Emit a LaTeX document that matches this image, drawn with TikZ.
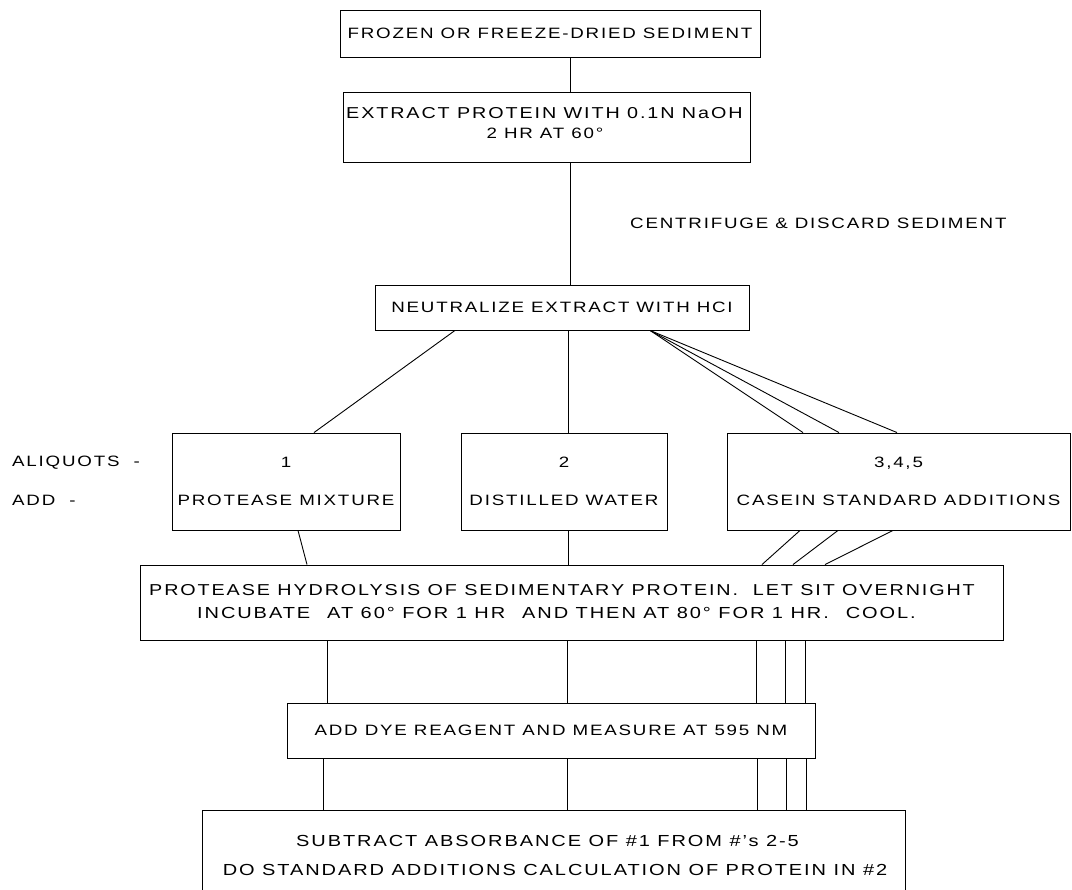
\documentclass[tikz,border=0pt]{standalone}
\usepackage{fontspec}
\setmainfont[LetterSpace=12,FakeStretch=1.25]{Liberation Sans}
\begin{document}
\begin{tikzpicture}[x=1pt,y=-1pt,
  txt/.style={font=\fontsize{15}{18}\selectfont, inner sep=0pt, align=center},
  bigtxt/.style={txt, font=\fontsize{16}{19}\selectfont},
  box/.style={draw, line width=0.9pt, inner sep=0pt, txt},
  conn/.style={line width=0.9pt}]
\clip (0,0) rectangle (1072,890);
\useasboundingbox (0,0) rectangle (1072,890);

% boxes
\node[box, minimum width=420pt, minimum height=47pt] (b1) at (550,33.5) {FROZEN OR FREEZE-DRIED SEDIMENT};
\node[box, minimum width=407pt, minimum height=70pt] (b2) at (546.5,127) {};
\node[txt, anchor=west, font=\fontsize{15.8}{18}\selectfont] (b2a) at (346,113) {EXTRACT PROTEIN WITH 0.1N NaOH};
\node[txt] (b2b) at (545,133) {2 HR AT 60°};
\node[txt, anchor=west] (cent) at (630,223) {CENTRIFUGE \& DISCARD SEDIMENT};
\node[box, minimum width=374pt, minimum height=45pt] (b3) at (562,307.5) {NEUTRALIZE EXTRACT WITH HCI};

\node[txt, anchor=west] (aliq) at (12,463) {ALIQUOTS\ \ -};
\node[txt, anchor=west] (add) at (12,500) {ADD\ \ -};
\node[box, minimum width=228pt, minimum height=97pt] (aA) at (286,481.5) {1\\[20pt]PROTEASE MIXTURE};
\node[box, minimum width=206pt, minimum height=97pt] (aB) at (564,481.5) {2\\[20pt]DISTILLED WATER};
\node[box, minimum width=343pt, minimum height=97pt] (aC) at (898.5,481.5) {3,4,5\\[20pt]CASEIN STANDARD ADDITIONS};

\node[box, minimum width=863pt, minimum height=75pt] (hyd) at (571.5,602.5) {};
\node[txt, font=\fontsize{15.8}{19}\selectfont] (hyda) at (562,590) {PROTEASE HYDROLYSIS OF SEDIMENTARY PROTEIN.\ \ LET SIT OVERNIGHT};
\node[bigtxt] (hydb) at (556.5,613) {INCUBATE\hspace{17pt}AT 60° FOR 1 HR\hspace{17pt}AND THEN AT 80° FOR 1 HR.\hspace{17pt}COOL.};

\node[box, minimum width=528pt, minimum height=55pt] (dye) at (551,730.5) {ADD DYE REAGENT AND MEASURE AT 595 NM};

\node[box, minimum width=703pt, minimum height=85pt] (bot) at (553.5,852.5) {};
\node[bigtxt] (bota) at (547.5,841) {SUBTRACT ABSORBANCE OF \#1 FROM \#'s 2-5};
\node[bigtxt] (botb) at (555,869.5) {DO STANDARD ADDITIONS CALCULATION OF PROTEIN IN \#2};

% connectors
\draw[conn] ([xshift=20pt]b1.south) -- ([xshift=23.5pt]b2.north);
\draw[conn] ([xshift=23.5pt]b2.south) -- ([xshift=8pt]b3.north);

\draw[conn] ([xshift=-107pt]b3.south) -- ([xshift=28pt]aA.north);
\draw[conn] ([xshift=6pt]b3.south) -- ([xshift=4pt]aB.north);
\draw[conn] ([xshift=88pt]b3.south) -- ([xshift=-95.5pt]aC.north);
\draw[conn] ([xshift=88pt]b3.south) -- ([xshift=-59.5pt]aC.north);
\draw[conn] ([xshift=88pt]b3.south) -- ([xshift=-1.5pt]aC.north);

\draw[conn] ([xshift=12pt]aA.south) -- ([xshift=-264.5pt]hyd.north);
\draw[conn] ([xshift=4pt]aB.south) -- ([xshift=-3.5pt]hyd.north);
\draw[conn] ([xshift=-98.5pt]aC.south) -- ([xshift=190.5pt]hyd.north);
\draw[conn] ([xshift=-60.5pt]aC.south) -- ([xshift=221.5pt]hyd.north);
\draw[conn] ([xshift=-5.5pt]aC.south) -- ([xshift=253.5pt]hyd.north);

\draw[conn] ([xshift=-244.5pt]hyd.south) -- ([xshift=-224pt]dye.north);
\draw[conn] ([xshift=-4.5pt]hyd.south) -- ([xshift=16pt]dye.north);
\draw[conn] ([xshift=184.5pt]hyd.south) -- ([xshift=205pt]dye.north);
\draw[conn] ([xshift=213.5pt]hyd.south) -- ([xshift=234pt]dye.north);
\draw[conn] ([xshift=233.5pt]hyd.south) -- ([xshift=254pt]dye.north);

\draw[conn] ([xshift=-228pt]dye.south) -- ([xshift=-230.5pt]bot.north);
\draw[conn] ([xshift=16pt]dye.south) -- ([xshift=13.5pt]bot.north);
\draw[conn] ([xshift=206pt]dye.south) -- ([xshift=203.5pt]bot.north);
\draw[conn] ([xshift=235pt]dye.south) -- ([xshift=232.5pt]bot.north);
\draw[conn] ([xshift=255pt]dye.south) -- ([xshift=252.5pt]bot.north);
\end{tikzpicture}
\end{document}
